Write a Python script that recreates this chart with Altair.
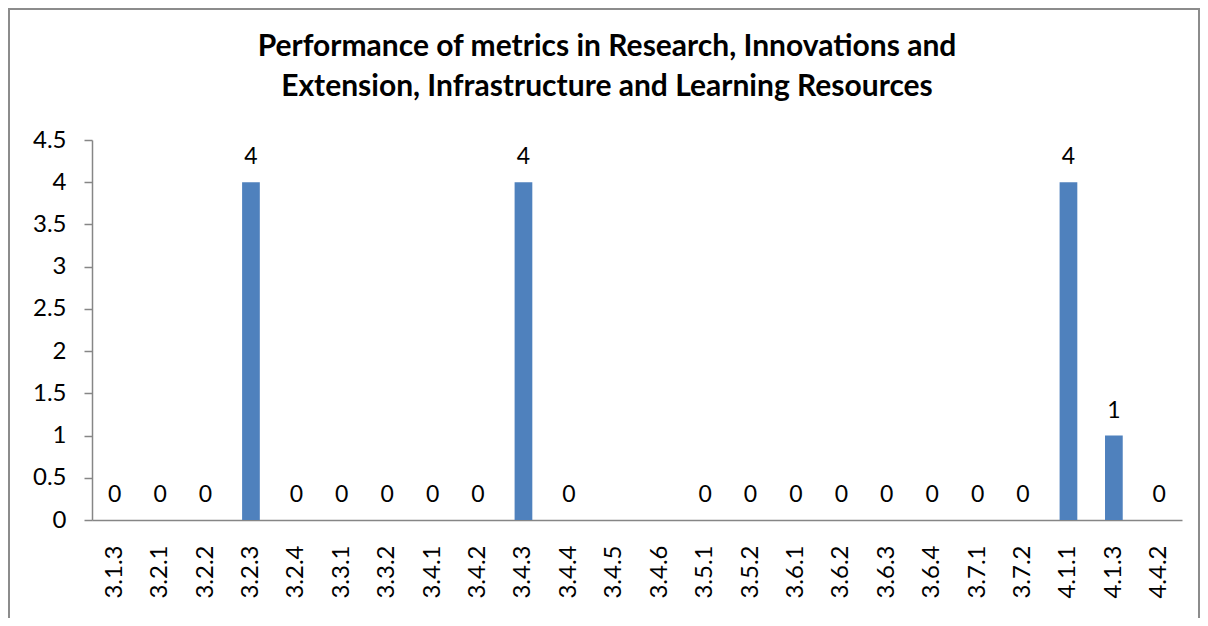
import altair as alt
import pandas as pd

categories = ["3.1.3", "3.2.1", "3.2.2", "3.2.3", "3.2.4", "3.3.1", "3.3.2", "3.4.1",
              "3.4.2", "3.4.3", "3.4.4", "3.4.5", "3.4.6", "3.5.1", "3.5.2", "3.6.1",
              "3.6.2", "3.6.3", "3.6.4", "3.7.1", "3.7.2", "4.1.1", "4.1.3", "4.4.2"]
values = [0, 0, 0, 4, 0, 0, 0, 0, 0, 4, 0, None, None, 0, 0, 0, 0, 0, 0, 0, 0, 4, 1, 0]
y_ticks = [0, 0.5, 1, 1.5, 2, 2.5, 3, 3.5, 4, 4.5]
title_lines = ["Performance of metrics in Research, Innovations and",
               "Extension, Infrastructure and Learning Resources"]

df = pd.DataFrame({"metric": categories, "value": values})

FONT = "Lato"
AXIS_GRAY = "#868686"

x_enc = alt.X("metric:N", sort=categories,
              scale=alt.Scale(domain=categories, paddingInner=0.61, paddingOuter=0.305),
              axis=alt.Axis(title=None, labelAngle=-90, ticks=False, tickSize=0,
                            labelPadding=25, labelFont=FONT, labelFontSize=24,
                            labelColor="#000000", domainColor=AXIS_GRAY, domainWidth=1.5))
y_enc = alt.Y("value:Q",
              scale=alt.Scale(domain=[0, 4.5], nice=False),
              axis=alt.Axis(title=None, values=y_ticks, format=".1~f", grid=False,
                            tickSize=8, tickColor=AXIS_GRAY, tickWidth=1.5,
                            labelPadding=18, labelFont=FONT, labelFontSize=24,
                            labelColor="#000000", domainColor=AXIS_GRAY, domainWidth=1.5))

base = alt.Chart(df)
bars = base.mark_bar(color="#4F81BD").encode(x=x_enc, y=y_enc)
labels = base.mark_text(baseline="alphabetic", dy=-18, font=FONT, fontSize=23,
                        color="#000000").encode(
    x=alt.X("metric:N", sort=categories), y="value:Q", text=alt.Text("value:Q"))

frame = alt.Chart(pd.DataFrame({"f": [0]})).mark_rect(
    filled=False, stroke="#8C8C8C", strokeWidth=2).encode(
    x=alt.value(-83), x2=alt.value(1107), y=alt.value(-131), y2=alt.value(520))

chart = alt.layer(frame, bars, labels).properties(
    width=1090, height=380,
    autosize=alt.AutoSizeParams(type="none"),
    padding={"left": 84, "right": 18, "top": 132, "bottom": 98},
    title=alt.TitleParams(text=title_lines, font=FONT, fontSize=30, fontWeight="bold",
                          color="#000000", anchor="middle", dx=-30, dy=116,
                          lineHeight=40, offset=22),
).configure(background="white").configure_view(strokeWidth=0)

chart.save("out.html", embed_options={"renderer": "svg", "actions": False})
